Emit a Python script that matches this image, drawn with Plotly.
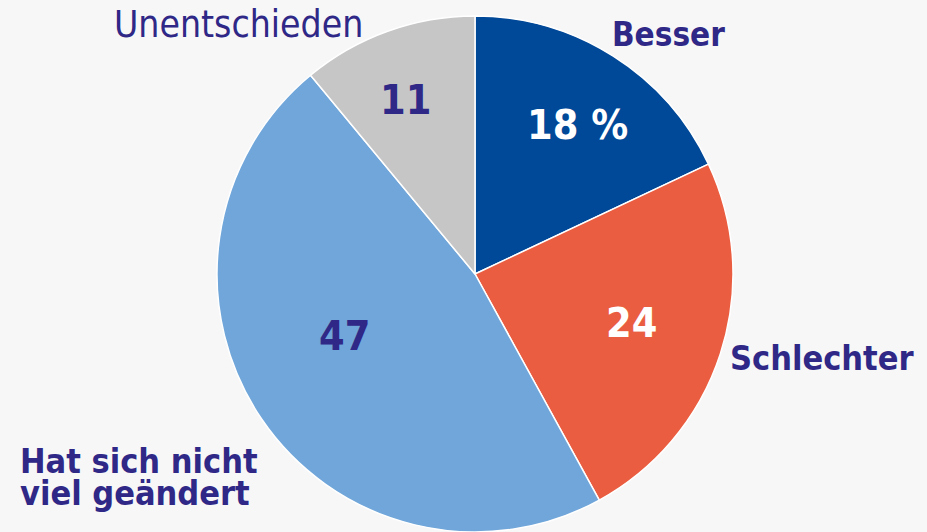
import math
import plotly.graph_objects as go

# ---- data ----
categories = ["Besser", "Schlechter", "Hat sich nicht viel geändert", "Unentschieden"]
values = [18, 24, 47, 11]
value_labels = ["18 %", "24", "47", "11"]

# ---- style ----
slice_colors = ["#004898", "#ea5d40", "#70a6d9", "#c6c6c6"]
value_text_colors = ["#ffffff", "#ffffff", "#2f2887", "#2f2887"]
label_radius_frac = [0.705, 0.636, 0.558, 0.73]
label_angle_offset = [2, -1, 9, -2]
text_color = "#2f2887"
bg = "#f7f7f7"
FONT = "DejaVu Sans Condensed"

W, H = 927, 532
cx, cy, r = 475, 275, 258  # pie centre/radius in pixels (from top-left)

fig = go.Figure(go.Pie(
    labels=categories,
    values=values,
    sort=False,
    direction="clockwise",
    rotation=0,
    textinfo="none",
    hoverinfo="label+value",
    marker=dict(colors=slice_colors, line=dict(color="#ffffff", width=1.5)),
    domain=dict(x=[(cx - r) / W, (cx + r) / W], y=[0, 2 * r / H]),
    showlegend=False,
))

total = sum(values)
cum = 0
annotations = []
for v, lab, col, f, da in zip(values, value_labels, value_text_colors,
                              label_radius_frac, label_angle_offset):
    ang = math.radians((cum + v / 2) / total * 360 + da)
    cum += v
    px = cx + f * r * math.sin(ang)
    py = cy - f * r * math.cos(ang)
    annotations.append(dict(
        x=px / W, y=1 - py / H, xref="paper", yref="paper",
        text=f"<b>{lab}</b>", showarrow=False,
        font=dict(family=FONT, size=41, color=col),
        xanchor="center", yanchor="middle",
    ))

outer = [
    ("<b>Besser</b>", 668, 34, "center", 33),
    ("<b>Schlechter</b>", 822, 358, "center", 34),
    ("<b>Hat sich nicht</b>", 18, 461, "left", 34),
    ("<b>viel geändert</b>", 18, 493, "left", 34),
    ("Unentschieden", 238, 24, "center", 37),
]
for txt, px, py, xa, sz in outer:
    annotations.append(dict(
        x=px / W, y=1 - py / H, xref="paper", yref="paper",
        text=txt, showarrow=False,
        font=dict(family=FONT, size=sz, color=text_color),
        xanchor=xa, yanchor="middle",
    ))

fig.update_layout(
    width=W, height=H,
    margin=dict(l=0, r=0, t=0, b=0),
    paper_bgcolor=bg, plot_bgcolor=bg,
    annotations=annotations,
)

fig.write_html("out.html", config={"displayModeBar": False},
               post_script="document.body.style.margin='0';")
